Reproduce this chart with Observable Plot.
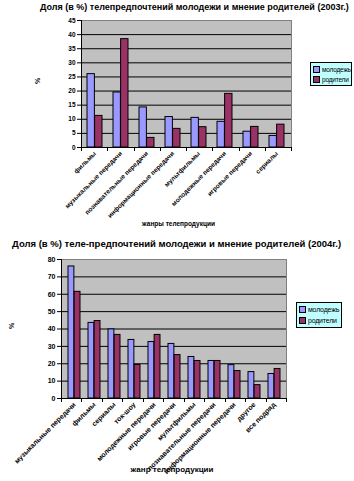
<!DOCTYPE html>
<html><head><meta charset="utf-8">
<script src="https://cdn.jsdelivr.net/npm/d3@7"></script>
<script src="https://cdn.jsdelivr.net/npm/@observablehq/plot@0.6"></script>
<style>
body{margin:0;background:#fff;font-family:"Liberation Sans",Arial,sans-serif;}
#root{position:relative;width:354px;height:481px;overflow:hidden;}
.t{position:absolute;white-space:nowrap;font-weight:bold;color:#000;}
.leg{position:absolute;background:#bfffff;border:1px solid #000;font-size:7px;letter-spacing:-0.2px;padding:1px 2px;box-sizing:border-box;white-space:nowrap;overflow:hidden;display:flex;flex-direction:column;justify-content:space-around;}
.leg div{display:flex;align-items:center;}
.leg span.sw{display:inline-block;width:5px;height:5px;border:1px solid #000;margin-right:2px;flex:none;}
.plotwrap{position:absolute;left:0;}
</style></head>
<body><div id="root"></div>
<script>
// ---- data ----
const seriesNames = ["молодежь", "родители"];
const seriesColors = ["#9999ff", "#993366"];

const title2003 = "Доля (в %) телепредпочтений молодежи и мнение родителей (2003г.)";
const xTitle2003 = "жанры телепродукции";
const cats2003 = ["фильмы", "музыкальные передачи", "познавательные передачи", "информационные передачи", "мультфильмы", "молодежные передачи", "игровые передачи", "сериалы"];
const youth2003 = [26, 19.5, 14.2, 10.8, 10.5, 9.1, 5.6, 4.1];
const parents2003 = [11.2, 38.4, 3.4, 6.6, 7.2, 19, 7.3, 8.1];
const yTicks2003 = [0, 5, 10, 15, 20, 25, 30, 35, 40, 45];

const title2004 = "Доля (в %) теле-предпочтений молодежи и мнение родителей (2004г.)";
const xTitle2004 = "жанр телепродукции";
const cats2004 = ["музыкальные передачи", "фильмы", "сериалы", "ток-шоу", "молодежные передачи", "игровые передачи", "мультфильмы", "познавательные передачи", "информационные передачи", "другое", "все подряд"];
const youth2004 = [76, 43.5, 39.8, 33.7, 32.5, 31.4, 23.9, 21.6, 19.2, 15.2, 14.1];
const parents2004 = [61.4, 44.6, 36.6, 19.3, 36.6, 25, 21.6, 21.6, 15.8, 7.7, 17];
const yTicks2004 = [0, 10, 20, 30, 40, 50, 60, 70, 80];

const root = document.getElementById("root");

function makeChart(cfg) {
  const {cats, youth, parents, ticks, width, height, ml, mr, mt, mb, pi, labelFont, xTitle, xTitleFont, xTitleDy, xTitleDx, pctDx} = cfg;
  const n = cats.length;
  const step = (width - ml - mr) / n;
  const half = step * (1 - pi) / 2;
  const rows = [];
  cats.forEach((c, i) => {
    rows.push({cat: c, s: seriesNames[0], v: youth[i]});
    rows.push({cat: c, s: seriesNames[1], v: parents[i]});
  });
  const grid = ticks.slice(1, -1);
  const axisLines = (index, scales, values, dims) => {
    const g = d3.create("svg:g").attr("stroke", "#000").attr("stroke-width", 1);
    const L = dims.marginLeft, T = dims.marginTop, R = dims.width - dims.marginRight, B = dims.height - dims.marginBottom;
    g.append("line").attr("x1", L + 0.5).attr("x2", L + 0.5).attr("y1", T).attr("y2", B);
    g.append("line").attr("x1", L).attr("x2", R).attr("y1", B + 0.5).attr("y2", B + 0.5);
    const st = (R - L) / n;
    for (let i = 0; i <= n; i++) {
      const x = Math.round(L + i * st) + 0.5;
      g.append("line").attr("x1", x).attr("x2", x).attr("y1", B).attr("y2", B + 4);
    }
    return g.node();
  };
  return Plot.plot({
    width, height,
    marginLeft: ml, marginRight: mr, marginTop: mt, marginBottom: mb,
    style: {fontFamily: "Liberation Sans, Arial, sans-serif", fontSize: labelFont + "px", fontWeight: "bold", color: "#000", background: "transparent", overflow: "visible"},
    x: {domain: cats, paddingInner: pi, paddingOuter: pi / 2, tickRotate: -45, tickSize: 0, tickPadding: 5, label: null},
    y: {domain: [0, ticks[ticks.length - 1]], ticks: ticks, tickSize: 4, tickPadding: 2, label: null, tickFormat: d => d},
    marks: [
      Plot.frame({fill: "#c0c0c0", stroke: "#808080"}),
      Plot.ruleY(grid, {stroke: "#000", strokeWidth: 1}),
      Plot.barY(rows.filter(d => d.s === seriesNames[0]), {x: "cat", y: "v", fill: seriesColors[0], stroke: "#000", strokeWidth: 1, insetRight: half}),
      Plot.barY(rows.filter(d => d.s === seriesNames[1]), {x: "cat", y: "v", fill: seriesColors[1], stroke: "#000", strokeWidth: 1, insetLeft: half}),
      axisLines,
      Plot.text([xTitle], {frameAnchor: "bottom", dy: xTitleDy, dx: xTitleDx, fontSize: xTitleFont, fontWeight: "bold"}),
      Plot.text(["%"], {frameAnchor: "left", dx: pctDx, rotate: -90, fontSize: 7, fontWeight: "bold"})
    ]
  });
}

function addText(txt, left, top, size) {
  const d = document.createElement("div");
  d.className = "t"; d.textContent = txt;
  d.style.left = left + "px"; d.style.top = top + "px"; d.style.fontSize = size + "px";
  root.appendChild(d);
}
function addLegend(left, top, w, h, fs) {
  const d = document.createElement("div");
  d.className = "leg";
  d.style.left = left + "px"; d.style.top = top + "px"; d.style.width = w + "px"; d.style.height = h + "px";
  d.style.fontSize = fs + "px";
  seriesNames.forEach((s, i) => {
    const row = document.createElement("div");
    const sw = document.createElement("span"); sw.className = "sw"; sw.style.background = seriesColors[i];
    row.appendChild(sw); row.appendChild(document.createTextNode(s));
    d.appendChild(row);
  });
  root.appendChild(d);
}

const w1 = document.createElement("div"); w1.className = "plotwrap"; w1.style.top = "0px";
w1.appendChild(makeChart({cats: cats2003, youth: youth2003, parents: parents2003, ticks: yTicks2003,
  width: 354, height: 232, ml: 81, mr: 63, mt: 20, mb: 85, pi: 0.42, labelFont: 6.5,
  xTitle: xTitle2003, xTitleFont: 6.5, xTitleDy: 78, xTitleDx: -8, pctDx: -44}));
root.appendChild(w1);

const w2 = document.createElement("div"); w2.className = "plotwrap"; w2.style.top = "232px";
w2.appendChild(makeChart({cats: cats2004, youth: youth2004, parents: parents2004, ticks: yTicks2004,
  width: 354, height: 249, ml: 61, mr: 68, mt: 27, mb: 83, pi: 0.4, labelFont: 7,
  xTitle: xTitle2004, xTitleFont: 8, xTitleDy: 73, xTitleDx: -2, pctDx: -50}));
root.appendChild(w2);

addText(title2003, 40, 2, 9);
addText(title2004, 12, 238, 9.5);
addLegend(310, 62, 42, 24, 6.5);
addLegend(296, 302, 46, 26, 7);
</script></body></html>
